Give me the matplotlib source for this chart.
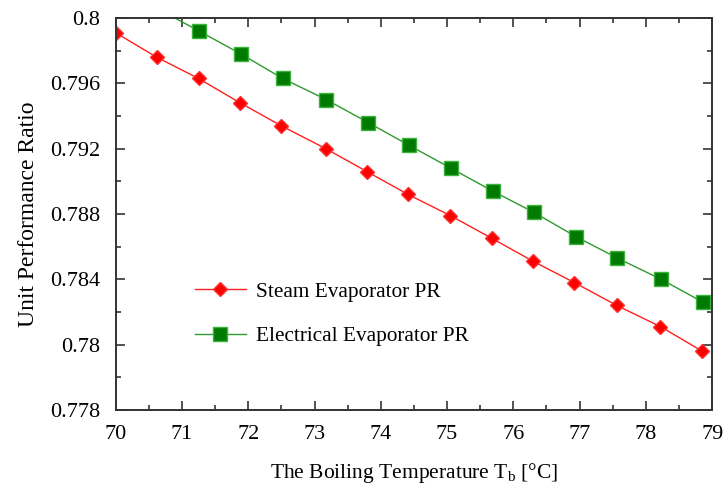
import numpy as np
import matplotlib
matplotlib.use("Agg")
import matplotlib.pyplot as plt
from matplotlib.ticker import MultipleLocator

plt.rcParams['font.family'] = ['Liberation Serif', 'DejaVu Serif']
plt.rcParams['mathtext.fontset'] = 'custom'
plt.rcParams['mathtext.rm'] = 'Liberation Serif'

# steam evaporator (red diamonds)
steam_t = [70.0, 70.62, 71.25, 71.88, 72.50, 73.17, 73.79, 74.41, 75.05,
           75.68, 76.30, 76.92, 77.56, 78.22, 78.85]
steam_pr = [0.7991, 0.7976, 0.7963, 0.7948, 0.7934, 0.7920, 0.7906, 0.7892,
            0.7879, 0.7865, 0.7851, 0.7838, 0.7824, 0.7811, 0.7796]

# electrical evaporator (green squares), first point sits above the frame
elec_t = [70.62, 71.26, 71.89, 72.52, 73.18, 73.81, 74.43, 75.06, 75.69,
          76.31, 76.95, 77.57, 78.23, 78.86]
elec_pr = [0.8006, 0.7992, 0.7978, 0.7963, 0.7950, 0.7936, 0.7922, 0.7908,
           0.7894, 0.7881, 0.7866, 0.7853, 0.7840, 0.7826]

# y ticks as printed on the original (bottom one is labelled 0.778)
ytick_pos = [0.776, 0.780, 0.784, 0.788, 0.792, 0.796, 0.800]
ytick_lab = ['0.778', '0.78', '0.784', '0.788', '0.792', '0.796', '0.8']
xtick_pos = [70, 71, 72, 73, 74, 75, 76, 77, 78, 79]

fig = plt.figure(figsize=(7.23, 4.88), dpi=100)
ax = fig.add_axes([0.160, 0.160, 0.825, 0.803])

ax.plot(steam_t, steam_pr, color='#ff2020', lw=1.0, marker='D', ms=7.5,
        mfc='#ff0000', mec='#ff3030', label='Steam Evaporator PR')
ax.plot(elec_t, elec_pr, color='#2e9a2e', lw=1.0, marker='s', ms=9.5,
        mfc='#007a00', mec='#3cb33c', label='Electrical Evaporator PR')

ax.set_xlim(70, 79)
ax.set_ylim(0.776, 0.800)
ax.set_xticks(xtick_pos)
ax.set_yticks(ytick_pos)
ax.set_yticklabels(ytick_lab)
ax.xaxis.set_minor_locator(MultipleLocator(0.5))
ax.yaxis.set_minor_locator(MultipleLocator(0.002))

for sp in ax.spines.values():
    sp.set_linewidth(1.4)
    sp.set_color('#333333')
ax.tick_params(which='both', direction='in', top=True, right=True,
               color='#333333', width=1.2, labelsize=16)
ax.tick_params(which='major', length=6.5)
ax.tick_params(which='minor', length=3.5)
ax.tick_params(axis='x', pad=11)
ax.tick_params(axis='y', pad=11)

ax.set_xlabel('The Boiling Temperature T$_\\mathrm{b}$ [°C]', fontsize=15.5, labelpad=12)
ax.set_ylabel('Unit Performance Ratio', fontsize=17, labelpad=8)

ax.legend(loc='center left', bbox_to_anchor=(0.1326, 0.245), frameon=False,
          fontsize=15.3, borderpad=0, borderaxespad=0, handlelength=2.4,
          handletextpad=0.5, labelspacing=1.15)

fig.savefig('out.png', dpi=100)
